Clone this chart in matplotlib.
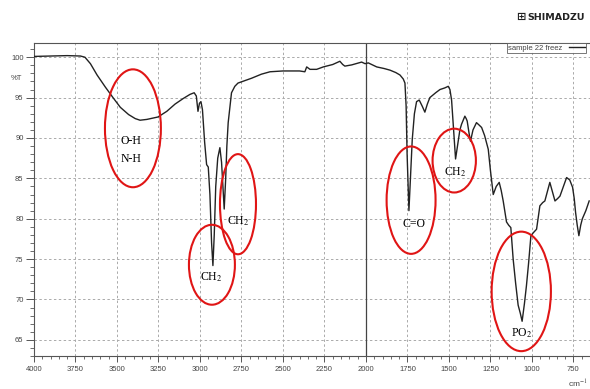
import matplotlib
matplotlib.use('Agg')
from matplotlib import pyplot as plt
from matplotlib.patches import Ellipse
from matplotlib.ticker import MultipleLocator

# spectrum (wavenumber, %T)
wavenumber = [4000, 3900, 3800, 3720, 3693, 3660, 3620, 3570, 3524, 3480, 3430, 3390, 3361, 3320,
              3253, 3200, 3150, 3100, 3060, 3035, 3022, 3012, 3003, 2994, 2985, 2972, 2960, 2950,
              2940, 2930, 2922, 2914, 2905, 2893, 2880, 2870, 2862, 2854, 2845, 2838, 2830, 2810,
              2790, 2771, 2730, 2689, 2630, 2578, 2500, 2400, 2368, 2357, 2337, 2297, 2257, 2200,
              2157, 2140, 2127, 2086, 2026, 2005, 1986, 1935, 1890, 1855, 1820, 1795, 1775, 1765,
              1758, 1752, 1741, 1732, 1721, 1708, 1695, 1679, 1660, 1645, 1630, 1615, 1580, 1554,
              1525, 1504, 1494, 1484, 1472, 1460, 1445, 1434, 1424, 1404, 1396, 1390, 1378, 1370,
              1355, 1334, 1318, 1303, 1285, 1263, 1250, 1233, 1215, 1197, 1185, 1173, 1160, 1153,
              1140, 1127, 1113, 1098, 1083, 1070, 1059, 1045, 1033, 1020, 1006, 990, 972, 960,
              952, 935, 922, 905, 892, 876, 861, 845, 831, 810, 791, 772, 755, 745, 737, 727, 717,
              706, 696, 675, 655]
transmittance = [100.1, 100.15, 100.2, 100.15, 100.0, 99.2, 97.8, 96.3, 95.0, 93.8, 92.9, 92.4, 92.2, 92.3,
                 92.6, 93.3, 94.2, 94.9, 95.4, 95.6, 95.2, 93.3, 94.3, 94.5, 93.5, 89.5, 86.7, 86.4,
                 83.0, 77.0, 74.2, 78.0, 84.0, 87.5, 88.8, 87.0, 84.0, 81.2, 85.0, 89.0, 91.9, 95.6,
                 96.4, 96.8, 97.1, 97.4, 97.9, 98.2, 98.3, 98.3, 98.2, 98.8, 98.5, 98.5, 98.8, 99.1,
                 99.5, 99.1, 98.9, 99.05, 99.4, 99.2, 99.3, 98.8, 98.6, 98.4, 98.1, 97.8, 97.3, 96.8,
                 94.0, 88.0, 81.0, 85.0, 89.8, 93.0, 94.5, 94.7, 93.9, 93.2, 94.2, 95.0, 95.6, 96.0,
                 96.2, 96.4, 96.0, 94.7, 91.0, 87.4, 89.5, 91.0, 91.7, 92.7, 92.4, 92.1, 90.5, 89.6,
                 91.0, 91.9, 91.6, 91.3, 90.3, 88.6, 86.0, 83.0, 84.0, 84.5, 83.5, 82.2, 80.5, 79.6,
                 79.2, 78.9, 75.0, 72.0, 69.3, 68.3, 67.3, 69.5, 71.7, 74.5, 77.9, 78.3, 78.7, 80.5,
                 81.6, 82.0, 82.2, 83.5, 84.5, 83.3, 82.2, 82.5, 82.8, 84.0, 85.1, 84.8, 83.9, 82.5, 80.8, 79.2, 77.9,
                 79.2, 80.0, 81.0, 82.2]

# annotated bands: label lines, ellipse centre (cm-1, %T), ellipse size (cm-1, %T), text position
band_labels = [['O-H', 'N-H'], ['CH$_2$'], ['CH$_2$'], ['C=O'], ['CH$_2$'], ['PO$_2$']]
band_centers = [(3404, 91.2), (2928, 74.3), (2771, 81.8), (1728, 82.3), (1468, 87.2), (1064, 71.0)]
band_sizes = [(337, 14.6), (277, 9.9), (217, 12.4), (295, 13.3), (261, 7.9), (357, 14.8)]
band_text_pos = [(3418, 88.5), (2930, 72.7), (2769, 79.7), (1709, 79.4), (1460, 85.8), (1062, 65.8)]

plt.rcParams['mathtext.fontset'] = 'stix'

fig = plt.figure(figsize=[5.9, 3.89], dpi=100)
ax = fig.add_axes([34 / 590, 1 - 356 / 389, 1 - 34 / 590, (356 - 42.7) / 389])

ax.plot(wavenumber, transmittance, color='#222222', lw=1.0, zorder=3)
ax.axvline(2000, color='#444444', lw=0.9, zorder=2)

for labels, c, s, tp in zip(band_labels, band_centers, band_sizes, band_text_pos):
    ax.add_patch(Ellipse(c, s[0], s[1], fill=False, edgecolor='#e01515', lw=1.5, zorder=4))
    ax.text(tp[0], tp[1], '\n'.join(labels), ha='center', va='center', fontsize=8.5,
            family='Liberation Serif', linespacing=1.6, zorder=5)

ax.set_xlim(4000, 650)
ax.set_ylim(63, 101.8)
ax.xaxis.set_major_locator(MultipleLocator(250))
ax.xaxis.set_minor_locator(MultipleLocator(50))
ax.yaxis.set_major_locator(MultipleLocator(5))
ax.yaxis.set_minor_locator(MultipleLocator(1))
ax.set_yticks([65, 70, 75, 80, 85, 90, 95, 100])
ax.grid(True, which='major', color='#aaaaaa', ls=(0, (2.5, 2.5)), lw=0.7)
ax.set_axisbelow(True)

for sp in ['left', 'bottom', 'top']:
    ax.spines[sp].set_color('#555555')
    ax.spines[sp].set_linewidth(0.8)
ax.spines['right'].set_visible(False)

ax.tick_params(axis='both', which='major', colors='#555555', labelcolor='#444444', labelsize=5.5, width=0.7)
ax.tick_params(axis='y', which='major', length=6, pad=1.5)
ax.tick_params(axis='y', which='minor', length=3, width=0.6, colors='#555555')
ax.tick_params(axis='x', which='major', length=4, pad=3)
ax.tick_params(axis='x', which='minor', length=2.5, width=0.6, colors='#555555')
for lab in ax.get_xticklabels() + ax.get_yticklabels():
    lab.set_family('Liberation Sans')

leg = ax.legend([ax.lines[0]], ['sample 22 freez'], loc='upper right', bbox_to_anchor=(0.995, 1.0),
                frameon=True, fancybox=False, edgecolor='#555555', borderpad=0.15, markerfirst=False,
                handlelength=2.2, handletextpad=0.8, borderaxespad=0.1,
                prop={'family': 'Liberation Sans', 'size': 5.5})
leg.get_frame().set_linewidth(0.7)
for t in leg.get_texts():
    t.set_color('#444444')

fig.text(16 / 590, 1 - 78 / 389, '%T', fontsize=5.5, color='#444444', family='Liberation Sans',
         ha='center', va='center')
fig.text(578 / 590, 1 - 384 / 389, 'cm$^{-1}$', fontsize=6, color='#444444', family='Liberation Sans',
         ha='center', va='center')
fig.text(521 / 590, 1 - 17 / 389, '\u229e', fontsize=8, color='#222222', family='DejaVu Sans',
         ha='center', va='center', weight='bold')
fig.text(527 / 590, 1 - 17 / 389, 'SHIMADZU', fontsize=6.8, color='#222222', family='DejaVu Sans',
         ha='left', va='center', weight='bold')

fig.savefig('out.png', dpi=100)
